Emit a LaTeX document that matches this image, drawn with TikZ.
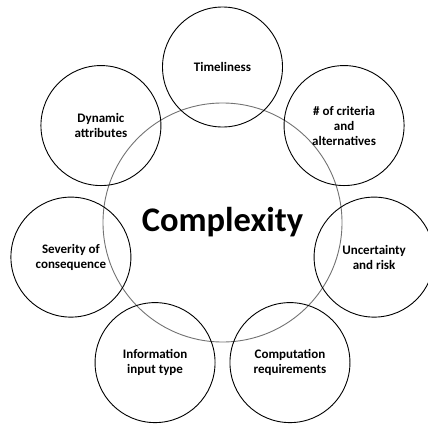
\documentclass[tikz,border=0pt]{standalone}
\usepackage{fontspec}
\setmainfont{Carlito}
\begin{document}
\begin{tikzpicture}[x=1pt,y=1pt,
  outer/.style={circle, draw=black, line width=0.9pt, minimum size=120pt, inner sep=0pt, align=center,
    font=\bfseries\fontsize{13}{15}\selectfont},
  centre/.style={circle, draw=black!55, line width=0.9pt, minimum size=239pt, inner sep=0pt,
    font=\bfseries\fontsize{34.5}{40}\selectfont}]
\useasboundingbox (0,0) rectangle (428,-423);
\clip (0,0) rectangle (428,-423);
\coordinate (C) at (222.5,-222.5);
\node[centre] (core) at (C) {Complexity};
\node[outer] (t) at ([shift={(90:155.5)}]C) {Timeliness};
\node[outer] (n) at ([shift={(38.57:155.5)}]C) {\# of criteria\\and\\alternatives};
\node[outer] (u) at ([shift={(-12.86:155.5)}]C) {Uncertainty\\and risk};
\node[outer] (cr) at ([shift={(-64.29:155.5)}]C) {Computation\\requirements};
\node[outer] (ii) at ([shift={(-115.71:155.5)}]C) {Information\\input type};
\node[outer] (s) at ([shift={(-167.14:155.5)}]C) {Severity of\\consequence};
\node[outer] (d) at ([shift={(141.43:155.5)}]C) {Dynamic\\attributes};
\end{tikzpicture}
\end{document}
